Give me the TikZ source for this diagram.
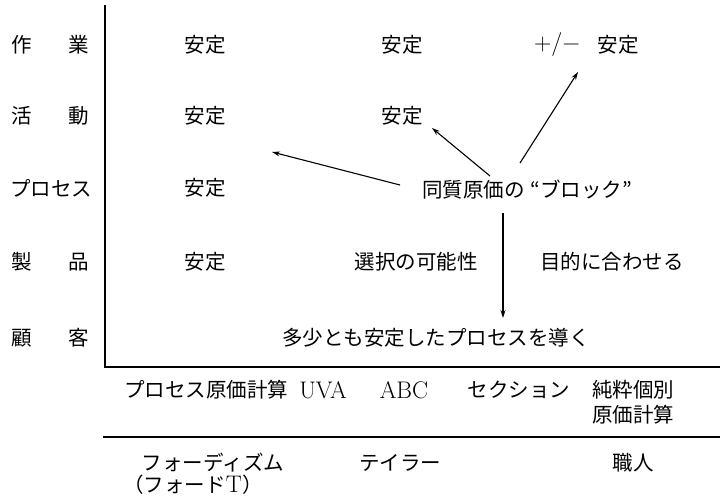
\documentclass[tikz,border=0pt]{standalone}
\usepackage{fontspec}
\newfontfamily\cjk{Noto Sans CJK JP}
\usetikzlibrary{arrows.meta}
\newcommand\lat[1]{{\fontsize{24}{28}\selectfont\rmfamily #1}}
\begin{document}
\begin{tikzpicture}[x=1pt,y=-1pt,
  txt/.style={inner sep=0pt,font=\fontsize{20.5}{24}\selectfont},
  rowlab/.style={txt},
  axis/.style={line width=1.1pt},
  arr/.style={line width=1.1pt,-{Stealth[length=8pt,width=5pt]}}]
\useasboundingbox (0,0) rectangle (720,500);
% axes
\coordinate (ytop) at (105,5);
\coordinate (orig) at (105,367);
\coordinate (xend) at (720,367);
\coordinate (l2a) at (103,437);
\coordinate (l2b) at (720,437);
\draw[axis] (ytop) -- (orig) -- (xend);
\draw[axis] (l2a) -- (l2b);
% row labels
\node[rowlab] (r1) at (50,45) {\cjk\makebox[78pt][s]{作\hfill 業}};
\node[rowlab] (r2) at (50,116) {\cjk\makebox[78pt][s]{活\hfill 動}};
\node[rowlab] (r3) at (50,188) {\cjk\makebox[80pt][s]{プ\hfill ロ\hfill セ\hfill ス}};
\node[rowlab] (r4) at (50,262) {\cjk\makebox[78pt][s]{製\hfill 品}};
\node[rowlab] (r5) at (50,338) {\cjk\makebox[78pt][s]{顧\hfill 客}};
% cells
\node[txt] (a11) at (205,45) {\cjk 安定};
\node[txt] (a21) at (205,116) {\cjk 安定};
\node[txt] (a31) at (205,188) {\cjk 安定};
\node[txt] (a41) at (205,262) {\cjk 安定};
\node[txt] (a12) at (402,45) {\cjk 安定};
\node[txt] (a22) at (402,116) {\cjk 安定};
\node[txt] (pm) at (557,45) {\lat{+/−}};
\node[txt] (a13) at (618,45) {\cjk 安定};
\node[txt] (blk) at (527,190) {\cjk 同質原価の\hspace{6pt}“ブロック”};
\node[txt] (sel) at (416,262) {\cjk 選択の可能性};
\node[txt] (fit) at (612,262) {\cjk 目的に合わせる};
\node[txt] (cust) at (436,338) {\cjk 多少とも安定したプロセスを導く};
% methods
\node[txt] (m1) at (206,390) {\cjk プロセス原価計算};
\node[txt] (m2) at (323,390) {\lat{UVA}};
\node[txt] (m3) at (404,390) {\lat{ABC}};
\node[txt] (m4) at (519,390) {\cjk セクション};
\node[txt,align=center] (m5) at (633,402) {\cjk 純粋個別\\[1pt]\cjk 原価計算};
% eras
\node[txt] (e1) at (213,463) {\cjk フォーディズム};
\node[txt] (e1b) at (193,485) {\cjk （フォード\lat{T}）};
\node[txt] (e2) at (400,463) {\cjk テイラー};
\node[txt] (e3) at (633,463) {\cjk 職人};
% arrows
\coordinate (s1) at (400,185);
\coordinate (t1) at (272,152);
\coordinate (s2) at (490,176);
\coordinate (t2) at (432,128);
\coordinate (s3) at (520,163);
\coordinate (t3) at (578,72);
\coordinate (s4) at (503,213);
\coordinate (t4) at (503,318);
\draw[arr] (s1) -- (t1);
\draw[arr] (s2) -- (t2);
\draw[arr] (s3) -- (t3);
\draw[arr] (s4) -- (t4);
\end{tikzpicture}
\end{document}
